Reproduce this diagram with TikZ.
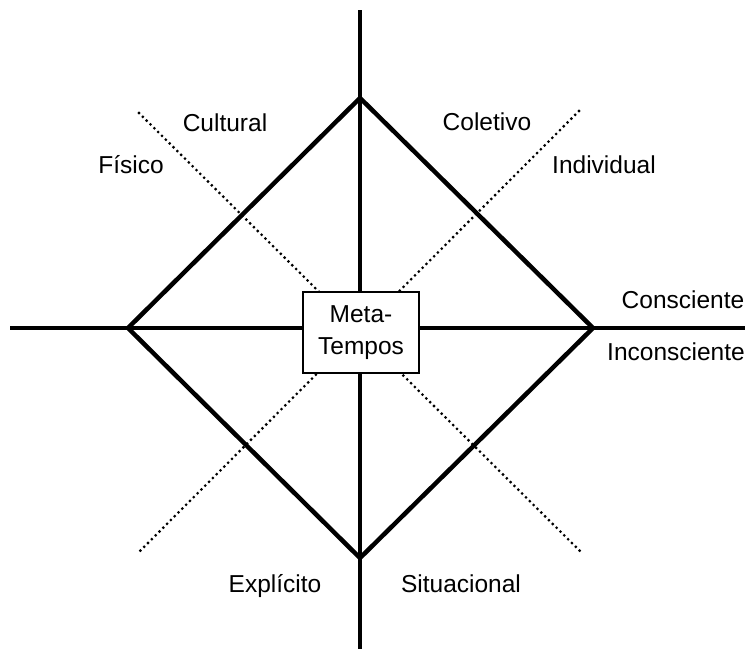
\documentclass[tikz,border=0pt]{standalone}
\usepackage{fontspec}
\setmainfont{Liberation Sans}
\begin{document}
\begin{tikzpicture}[x=1pt,y=-1pt,
  axis/.style={line width=4.5pt},
  rhomb/.style={line width=4.5pt,line join=miter},
  divider/.style={line width=3.1pt,line cap=round,dash pattern=on 0pt off 5.4pt},
  lbl/.style={font=\fontsize{24.5}{30}\selectfont,anchor=base,inner sep=0pt},
  core/.style={draw,line width=1.8pt,fill=white,minimum width=116pt,minimum height=81pt,
    align=center,font=\fontsize{24.5}{32}\selectfont,inner sep=0pt}]
\useasboundingbox (0,0) rectangle (747,649);
% axis end points
\coordinate (vtop) at (360,10);
\coordinate (vbot) at (360,649);
\coordinate (hleft) at (10,328);
\coordinate (hright) at (745,328);
% diamond corners
\coordinate (dt) at (360,98);
\coordinate (dl) at (128,328);
\coordinate (dr) at (593,328);
\coordinate (db) at (360,558);
% diagonal dividers
\coordinate (nw) at (139,113);
\coordinate (se) at (582,553);
\coordinate (ne) at (579,111);
\coordinate (sw) at (138,553);
\draw[axis] (vtop) -- (vbot);
\draw[axis] (hleft) -- (hright);
\draw[rhomb] (dt) -- (dr) -- (db) -- (dl) -- cycle;
\draw[divider] (nw) -- (se);
\draw[divider] (ne) -- (sw);
\node[core] (meta) at (361,332.5) {Meta-\\Tempos};
% quadrant labels
\node[lbl] (cultural) at (225,131) {Cultural};
\node[lbl] (fisico) at (131,173) {Físico};
\node[lbl] (coletivo) at (487,130) {Coletivo};
\node[lbl] (individual) at (604,173) {Individual};
\node[lbl] (consciente) at (683,308) {Consciente};
\node[lbl] (inconsciente) at (676,360) {Inconsciente};
\node[lbl] (explicito) at (275,592) {Explícito};
\node[lbl] (situacional) at (461,592) {Situacional};
\end{tikzpicture}
\end{document}
